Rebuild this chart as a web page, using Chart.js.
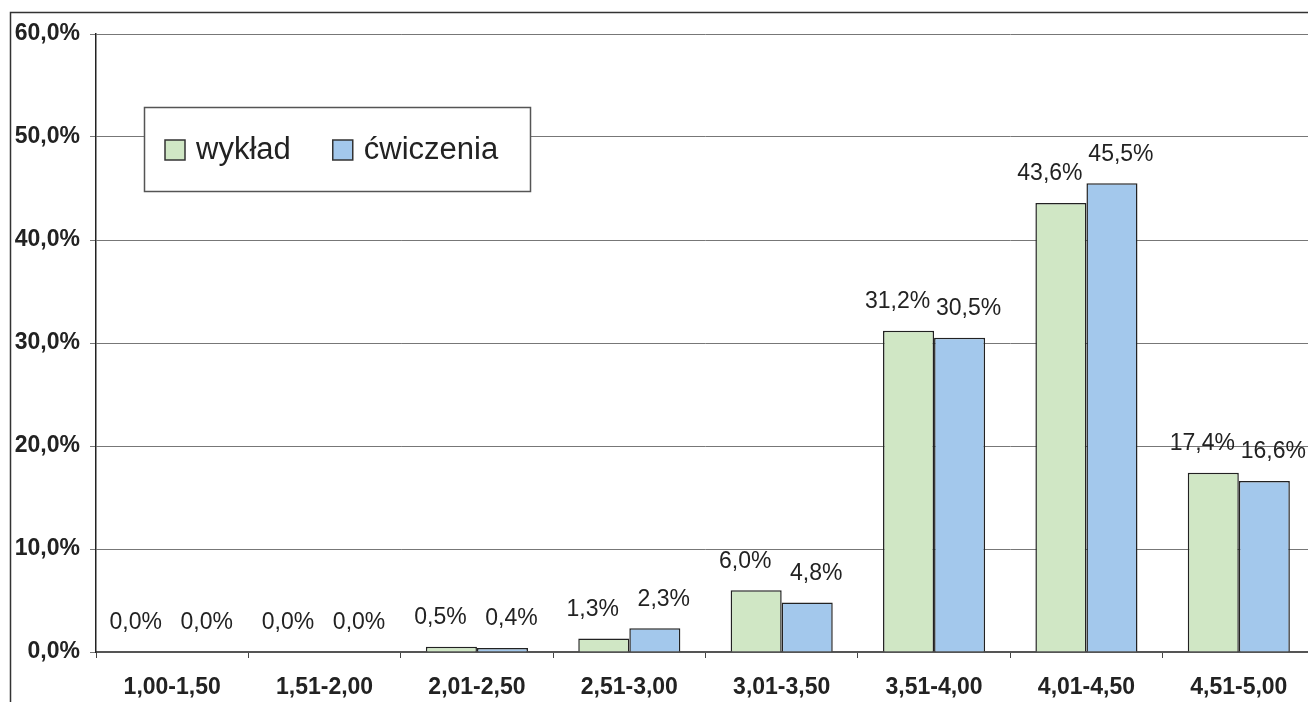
<!DOCTYPE html>
<html>
<head>
<meta charset="utf-8">
<script src="https://cdn.jsdelivr.net/npm/chart.js@4.4.0/dist/chart.umd.min.js"></script>
<style>
  html, body { margin: 0; padding: 0; background: #fff; overflow: hidden; }
  #wrap { position: absolute; left: 0; top: 0; width: 1330px; height: 702px; }
</style>
</head>
<body>
<div id="wrap"><canvas id="gradesChart"></canvas></div>
<script>
const ranges = ['1,00-1,50', '1,51-2,00', '2,01-2,50', '2,51-3,00', '3,01-3,50', '3,51-4,00', '4,01-4,50', '4,51-5,00'];
const lecture = [0.0, 0.0, 0.5, 1.3, 6.0, 31.2, 43.6, 17.4];
const exercises = [0.0, 0.0, 0.4, 2.3, 4.8, 30.5, 45.5, 16.6];
const yTicks = [0, 10, 20, 30, 40, 50, 60];

const FONT = '"Liberation Sans", Arial, sans-serif';

function pct(v) {
  return v.toFixed(1).replace('.', ',') + '%';
}

// outer frame of the chart object
const framePlugin = {
  id: 'frame',
  beforeDraw(chart) {
    const ctx = chart.ctx;
    ctx.save();
    ctx.strokeStyle = '#333';
    ctx.lineWidth = 1.5;
    ctx.strokeRect(10.5, 12.5, chart.width + 50, chart.height + 50);
    ctx.restore();
  }
};

// value labels above every bar, pushed a little apart like in the original
const labelShift = [-11, 9];
const valueLabels = {
  id: 'valueLabels',
  afterDatasetsDraw(chart) {
    const ctx = chart.ctx;
    ctx.save();
    ctx.font = '23px ' + FONT;
    ctx.fillStyle = '#222';
    ctx.textAlign = 'center';
    ctx.textBaseline = 'middle';
    chart.data.datasets.forEach((ds, i) => {
      chart.getDatasetMeta(i).data.forEach((bar, j) => {
        ctx.fillText(pct(ds.data[j]), bar.x + labelShift[i], bar.y - 29);
      });
    });
    ctx.restore();
  }
};

// boxed legend inside the plot area
const boxLegend = {
  id: 'boxLegend',
  afterDraw(chart) {
    const ctx = chart.ctx;
    ctx.save();
    ctx.fillStyle = '#fff';
    ctx.fillRect(144, 107, 386, 84);
    ctx.strokeStyle = '#555';
    ctx.lineWidth = 1.5;
    ctx.strokeRect(144.5, 107.5, 386, 84);
    ctx.font = '31px ' + FONT;
    ctx.textBaseline = 'middle';
    let x = 165;
    const y = 150;
    chart.data.datasets.forEach(ds => {
      ctx.fillStyle = ds.backgroundColor;
      ctx.fillRect(x, y - 10, 20, 20);
      ctx.strokeStyle = '#333';
      ctx.lineWidth = 1.5;
      ctx.strokeRect(x, y - 10, 20, 20);
      ctx.fillStyle = '#222';
      ctx.fillText(ds.label, x + 31, y);
      x += 31 + ctx.measureText(ds.label).width + 42;
    });
    ctx.restore();
  }
};

new Chart(document.getElementById('gradesChart'), {
  type: 'bar',
  data: {
    labels: ranges,
    datasets: [{
      label: 'wykład',
      data: lecture,
      backgroundColor: 'rgb(208, 231, 197)',
      borderColor: '#222',
      borderWidth: 1.5
    }, {
      label: 'ćwiczenia',
      data: exercises,
      backgroundColor: 'rgb(163, 200, 236)',
      borderColor: '#222',
      borderWidth: 1.5
    }]
  },
  options: {
    responsive: true,
    maintainAspectRatio: false,
    animation: false,
    layout: { padding: { top: 34, right: 15, left: 0, bottom: 0 } },
    datasets: { bar: { categoryPercentage: 0.67, barPercentage: 1.0 } },
    plugins: {
      legend: { display: false },
      tooltip: { enabled: false }
    },
    scales: {
      x: {
        grid: { drawOnChartArea: false, drawTicks: true, tickLength: 6, color: '#444', offset: true },
        border: { display: true, color: '#555', width: 2 },
        ticks: {
          color: '#222',
          font: { family: FONT, size: 23, weight: 'bold' },
          padding: 16,
          maxRotation: 0
        },
        afterFit(scale) { scale.height = 50; }
      },
      y: {
        min: 0,
        max: 60,
        afterBuildTicks(scale) { scale.ticks = yTicks.map(v => ({ value: v })); },
        grid: { color: '#777', lineWidth: 1, drawTicks: true, tickLength: 6 },
        border: { display: true, color: '#222', width: 1.5 },
        ticks: {
          color: '#222',
          font: { family: FONT, size: 23, weight: 'bold' },
          padding: 10,
          callback: v => pct(v)
        },
        afterFit(scale) { scale.width = 96; }
      }
    }
  },
  plugins: [framePlugin, valueLabels, boxLegend]
});
</script>
</body>
</html>
